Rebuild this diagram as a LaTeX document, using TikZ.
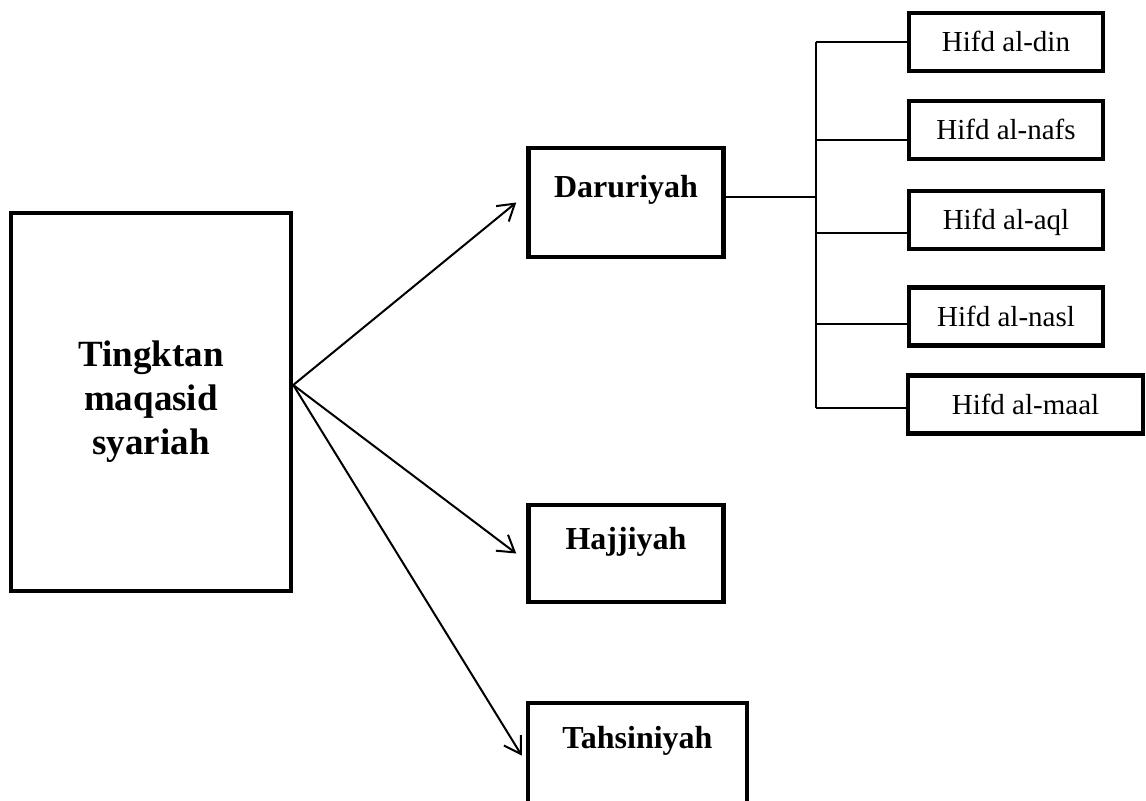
\documentclass[tikz,border=0pt]{standalone}
\usepackage{fontspec}
\setmainfont{Liberation Serif}
\usetikzlibrary{arrows.meta}

\begin{document}
\begin{tikzpicture}[x=.5pt,y=-.5pt,
    box/.style={draw,line width=2.25pt,inner sep=0pt},
    lvl/.style={box,anchor=base,font=\fontsize{16}{19}\selectfont\bfseries},
    hifd/.style={box,minimum width=97pt,minimum height=29pt,text height=9.6pt,text depth=0pt,
      font=\fontsize{14.5}{17}\selectfont},
    link/.style={line width=1pt},
    >={Straight Barb[length=8pt,width=10pt]}]
  \useasboundingbox (0,0) rectangle (1146,800);
  \node[box,minimum width=140pt,minimum height=189pt,align=center,
    font=\fontsize{18.5}{22}\selectfont\bfseries] (main) at (151,402) {Tingktan\\maqasid\\syariah};
  \node[lvl,minimum width=97.5pt,text height=24.5pt,text depth=30pt] (daru) at (626,197) {Daruriyah};
  \node[lvl,minimum width=97.5pt,text height=22pt,text depth=26.5pt] (hajj) at (626,549) {Hajjiyah};
  \node[lvl,minimum width=109.5pt,text height=22.5pt,text depth=30pt] (tahs) at (637.5,748) {Tahsiniyah};
  \node[hifd] (din) at (1006,42) {Hifd al-din};
  \node[hifd] (nafs) at (1006,130) {Hifd al-nafs};
  \node[hifd] (aql) at (1006,220) {Hifd al-aql};
  \node[hifd] (nasl) at (1006,316.5) {Hifd al-nasl};
  \node[hifd,minimum width=117.5pt] (maal) at (1025.5,404.5) {Hifd al-maal};
  \foreach \y/\n in {42/din,140/nafs,233/aql,324/nasl,408/maal} {
    \coordinate (j-\n) at (816,\y);
    \draw[link] (j-\n) -- (j-\n -| \n.west);
  }
  \draw[link] (j-din) -- (j-maal);
  \draw[link] (daru.base east) -- (daru.base east -| j-din);
  \coordinate (hub) at ([yshift=8.5pt]main.east);
  \draw[link,->] (hub) -- ([xshift=-5pt]daru.west);
  \draw[link,->] (hub) -- ([xshift=-5pt]hajj.west);
  \draw[link,->] (hub) -- ([xshift=-2pt]tahs.west);
\end{tikzpicture}
\end{document}
